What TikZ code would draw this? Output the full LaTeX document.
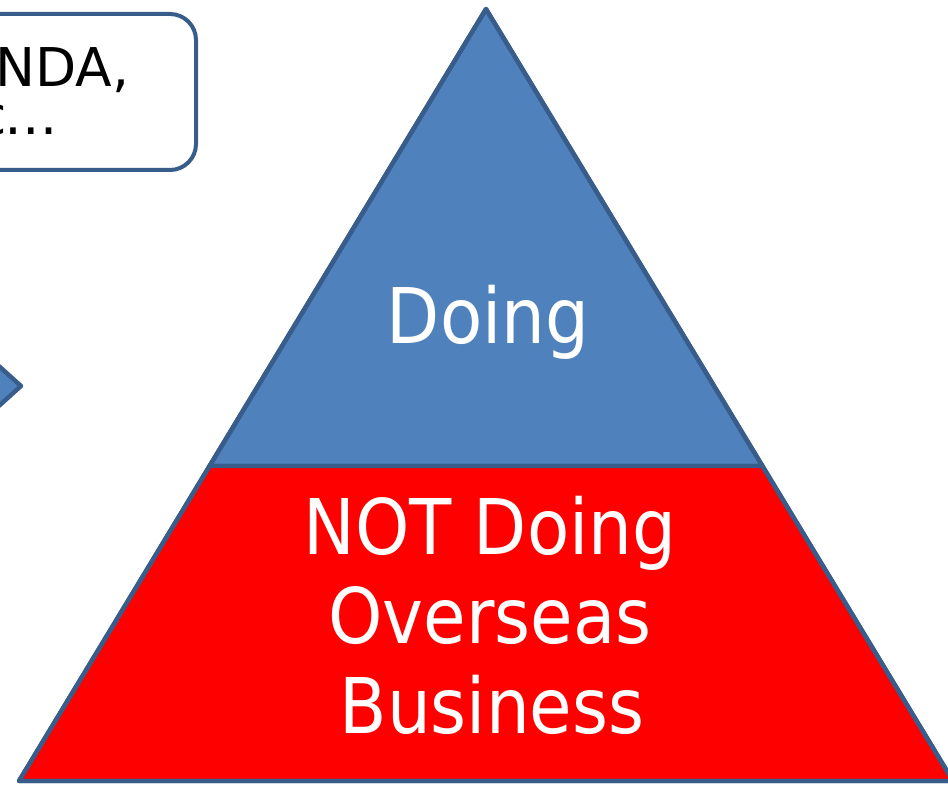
\documentclass[tikz,border=0pt]{standalone}
\usepackage{fontspec}
\setmainfont{DejaVu Sans Condensed}
\newfontfamily\memofont{DejaVu Sans}
\usetikzlibrary{calc}
\definecolor{accentblue}{HTML}{4F81BD}
\definecolor{edgeblue}{HTML}{385D8A}
\definecolor{notred}{HTML}{FF0000}
\tikzset{
  layer/.style={draw=edgeblue, line width=0.11cm, line join=round},
  bigtext/.style={text=white, font=\fontsize{54.6}{63.3}\selectfont, inner sep=0pt},
  boxtext/.style={font=\memofont\fontsize{38}{34}\selectfont, inner sep=0pt}
}
\begin{document}
\begin{tikzpicture}[x=0.025cm, y=-0.025cm]
\useasboundingbox (0,0) rectangle (948,786);
\clip (0,0) rectangle (948,786);
\coordinate (apex) at (486,9);
\coordinate (left) at (19,781);
\coordinate (right) at (953,781);
\coordinate (splitl) at ($(apex)!0.592!(left)$);
\coordinate (splitr) at ($(apex)!0.592!(right)$);
\filldraw [layer, fill=accentblue] (apex) -- (splitr) -- (splitl) -- cycle;
\filldraw [layer, fill=notred] (splitl) -- (splitr) -- (right) -- (left) -- cycle;
\draw [layer] (apex) -- (right) -- (left) -- cycle;
\filldraw [layer, fill=accentblue] (-40,331) -- (21,386) -- (-40,441) -- cycle;
\draw [edgeblue, line width=0.1cm, rounded corners=0.65cm, fill=white] (-200,14) rectangle (196,170);
\node [boxtext, anchor=base west] (nda) at (-5,87) {NDA,};
\node [boxtext, anchor=base east] (etc) at (58,135) {c\kern-1.5pt…};
\node [bigtext, anchor=base] (doing) at (488,344) {Doing};
\node [bigtext, anchor=base] (notdoing) at (490,555) {NOT Doing};
\node [bigtext, anchor=base] (overseas) at (490,644) {Overseas};
\node [bigtext, anchor=base] (business) at (492,733) {Business};
\end{tikzpicture}
\end{document}
